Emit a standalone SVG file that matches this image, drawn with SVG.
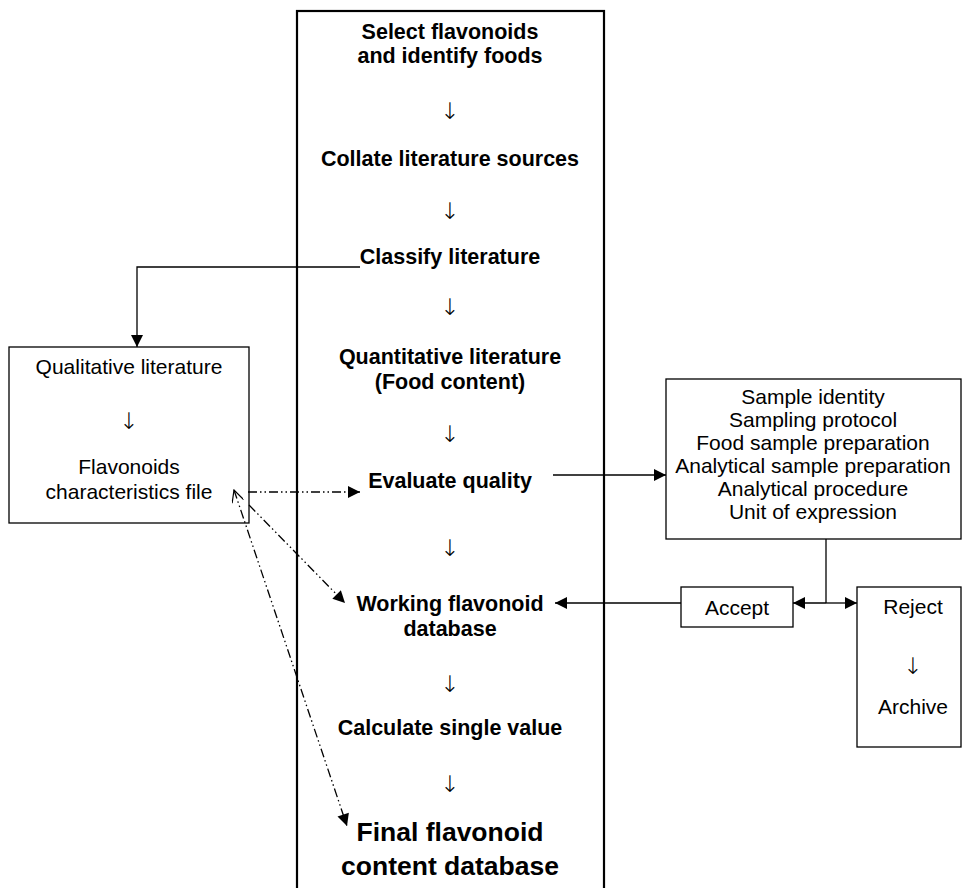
<svg xmlns="http://www.w3.org/2000/svg" width="962" height="888" viewBox="0 0 962 888">
<defs>
<style>
.b{font-family:"Liberation Sans",Arial,sans-serif;font-weight:bold;font-size:21.5px;fill:#000;text-anchor:middle}
.r{font-family:"Liberation Sans",Arial,sans-serif;font-size:21px;fill:#000;text-anchor:middle}
.ar{font-family:"DejaVu Sans",sans-serif;font-weight:200;font-size:23px;fill:#000;text-anchor:middle}
.box{fill:#fff;stroke:#000;stroke-width:1.3}
.ln{fill:none;stroke:#000;stroke-width:1.3}
.dd{fill:none;stroke:#000;stroke-width:1.3;stroke-dasharray:9 3 1.5 3 1.5 3}
</style>
<marker id="ah" viewBox="0 0 10 10" refX="10" refY="5" markerWidth="15" markerHeight="12" markerUnits="userSpaceOnUse" orient="auto">
<path d="M0,0 L10,5 L0,10 z" fill="#000"/>
</marker>
<marker id="oh" viewBox="0 0 10 10" refX="0" refY="5" markerWidth="14" markerHeight="12" markerUnits="userSpaceOnUse" orient="auto">
<path d="M10,0 L0,5 L10,10" fill="none" stroke="#000" stroke-width="1"/>
</marker>
</defs>
<rect width="962" height="888" fill="#fff"/>

<g id="main">
<rect x="297" y="11" width="307" height="900" fill="none" stroke="#000" stroke-width="2.2"/>
<text class="b" x="450" y="39">Select flavonoids</text>
<text class="b" x="450" y="63">and identify foods</text>
<text class="ar" x="450" y="119">↓</text>
<text class="b" x="450" y="166">Collate literature sources</text>
<text class="ar" x="450" y="219">↓</text>
<text class="b" x="450" y="264">Classify literature</text>
<text class="ar" x="450" y="315">↓</text>
<text class="b" x="450" y="364">Quantitative literature</text>
<text class="b" x="450" y="389">(Food content)</text>
<text class="ar" x="450" y="442">↓</text>
<text class="b" x="450" y="488">Evaluate quality</text>
<text class="ar" x="450" y="556">↓</text>
<text class="b" x="450" y="611">Working flavonoid</text>
<text class="b" x="450" y="636">database</text>
<text class="ar" x="450" y="692">↓</text>
<text class="b" x="450" y="735">Calculate single value</text>
<text class="ar" x="450" y="792">↓</text>
<text class="b" x="450" y="841" style="font-size:26.5px">Final flavonoid</text>
<text class="b" x="450" y="875" style="font-size:26.5px">content database</text>
</g>

<g id="qualitative">
<rect class="box" x="9" y="347" width="240" height="176"/>
<text class="r" x="129" y="374">Qualitative literature</text>
<text class="ar" x="129" y="429">↓</text>
<text class="r" x="129" y="474">Flavonoids</text>
<text class="r" x="129" y="499">characteristics file</text>
</g>

<g id="criteria">
<rect class="box" x="666" y="379" width="295" height="160"/>
<text class="r" x="813" y="404">Sample identity</text>
<text class="r" x="813" y="427">Sampling protocol</text>
<text class="r" x="813" y="450">Food sample preparation</text>
<text class="r" x="813" y="473">Analytical sample preparation</text>
<text class="r" x="813" y="496">Analytical procedure</text>
<text class="r" x="813" y="519">Unit of expression</text>
</g>

<g id="accept">
<rect class="box" x="681" y="587" width="112" height="40"/>
<text class="r" x="737" y="615">Accept</text>
</g>

<g id="reject">
<rect class="box" x="857" y="587" width="104" height="160"/>
<text class="r" x="913" y="614">Reject</text>
<text class="ar" x="913" y="674">↓</text>
<text class="r" x="913" y="714">Archive</text>
</g>

<g id="connectors">
<path class="ln" d="M360,267 H137 V347" marker-end="url(#ah)"/>
<path class="ln" d="M553,475 H666" marker-end="url(#ah)"/>
<path class="ln" d="M826,539 V603"/>
<path class="ln" d="M826,603 H793" marker-end="url(#ah)"/>
<path class="ln" d="M826,603 H857" marker-end="url(#ah)"/>
<path class="ln" d="M681,603 H555" marker-end="url(#ah)"/>
<path class="dd" d="M248,492 H360" marker-end="url(#ah)"/>
<path class="dd" d="M249,505 L345,603" marker-end="url(#ah)"/>
<path class="dd" d="M234,490 L347,826" marker-start="url(#oh)" marker-end="url(#ah)"/>
</g>
</svg>
